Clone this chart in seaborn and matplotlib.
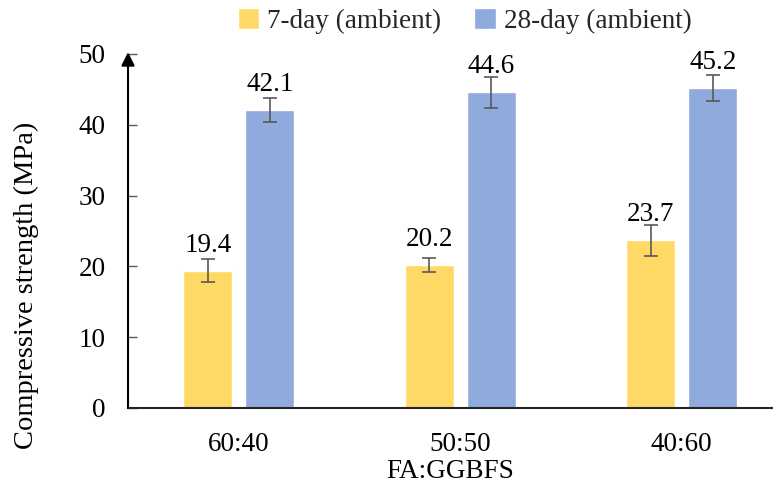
import matplotlib
matplotlib.use('Agg')
import matplotlib.pyplot as plt
import seaborn as sns
import pandas as pd

ratios = ["60:40", "50:50", "40:60"]
series = ["7-day (ambient)", "28-day (ambient)"]
day7 = [19.4, 20.2, 23.7]
day28 = [42.1, 44.6, 45.2]
err7 = [1.6, 1.0, 2.2]
err28 = [1.65, 2.2, 1.9]
yticks = [0, 10, 20, 30, 40, 50]
colors = ["#FFD966", "#8FAADC"]

df = pd.DataFrame({
    "ratio": ratios * 2,
    "series": [series[0]] * 3 + [series[1]] * 3,
    "value": day7 + day28,
})

sns.set_theme(style="white")
plt.rcParams['font.family'] = ['Liberation Serif', 'DejaVu Serif']
FS = 19.5

fig = plt.figure(figsize=(7.73, 4.94), dpi=100)
ax = fig.add_axes([0.1656, 0.1741, 0.8344, 0.7166])
sns.barplot(data=df, x="ratio", y="value", hue="series", order=ratios,
            hue_order=series, palette=colors, width=0.56, gap=0.21,
            errorbar=None, saturation=1, ax=ax)

for cont, vals, errs in zip(ax.containers, [day7, day28], [err7, err28]):
    for bar, v, e in zip(cont, vals, errs):
        x = bar.get_x() + bar.get_width() / 2
        ax.errorbar(x, v, yerr=e, fmt='none', ecolor='#595959', elinewidth=1.2,
                    capsize=5, capthick=1.2)
        ax.annotate(f"{v:.1f}", (x, v), xytext=(0, 13.5), textcoords='offset points',
                    ha='center', va='baseline', fontsize=FS, color='black')

ax.set_xlim(-0.5, 2.412)
ax.set_ylim(0, 50)
ax.set_yticks(yticks)
ax.set_yticklabels([str(t) for t in yticks])
for s in ['top', 'right', 'left']:
    ax.spines[s].set_visible(False)
ax.spines['bottom'].set_color('#262626')
ax.spines['bottom'].set_linewidth(1.5)
ax.tick_params(axis='y', direction='in', length=6.5, width=1, color='#595959',
               left=True, labelsize=FS, pad=16, labelcolor='black')
ax.tick_params(axis='x', length=0, pad=17, labelsize=FS, labelcolor='black')
ax.annotate('', xy=(0, 1.005), xytext=(0, 0), xycoords='axes fraction',
            arrowprops=dict(arrowstyle='-|>', color='black', lw=1.5,
                            mutation_scale=20, shrinkA=0, shrinkB=0),
            annotation_clip=False)

ax.set_xlabel("FA:GGBFS", fontsize=FS, color='black', va='center')
ax.xaxis.set_label_coords(0.499, -0.178)
ax.set_ylabel("Compressive strength (MPa)", fontsize=20.5, color='black', va='center')
ax.yaxis.set_label_coords(-0.158, 0.347)

handles, labels = ax.get_legend_handles_labels()
ax.legend_.remove()
fig.legend(handles, labels, loc='center', bbox_to_anchor=(0.601, 0.958), ncol=2,
           frameon=False, fontsize=FS, handlelength=0.8, handleheight=0.8,
           handletextpad=0.3, columnspacing=1.2)

fig.savefig("out.png", dpi=100)
